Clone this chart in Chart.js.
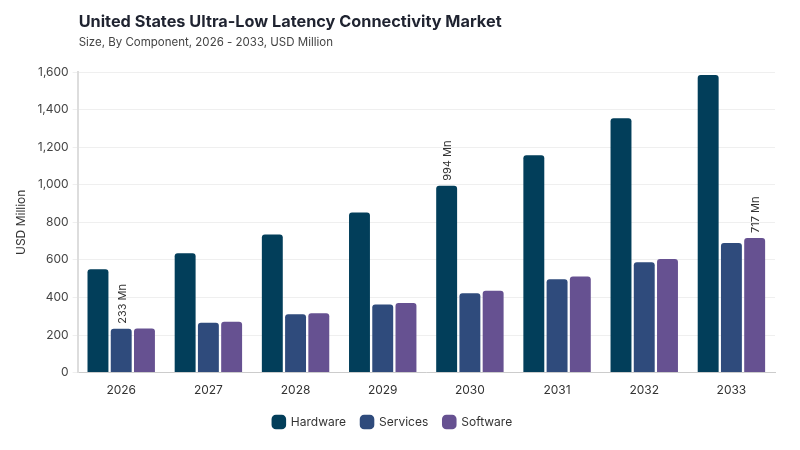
<!DOCTYPE html>
<html>
<head>
<meta charset="utf-8">
<script src="https://cdn.jsdelivr.net/npm/chart.js@4/dist/chart.umd.min.js"></script>
<style>
html,body{margin:0;padding:0;background:#fff;}
#wrap{width:800px;height:450px;position:relative;}
</style>
</head>
<body>
<div id="wrap"><canvas id="c" width="800" height="450"></canvas></div>
<script>
const categories = ["2026","2027","2028","2029","2030","2031","2032","2033"];
const hardware = [550, 635, 735, 852, 994, 1157, 1354, 1584];
const services = [233, 266, 310, 362, 423, 497, 587, 690];
const software = [235, 271, 316, 371, 435, 512, 605, 717];
const seriesNames = ["Hardware","Services","Software"];
const yTicks = [0,200,400,600,800,1000,1200,1400,1600];
// which points carry a value label: [datasetIndex, categoryIndex]
const labelled = [[1,0],[0,4],[2,7]];
const titleText = "United States Ultra-Low Latency Connectivity Market";
const subtitleText = "Size, By Component, 2026 - 2033, USD Million";

const FONT = "Inter, 'DejaVu Sans', sans-serif";
const colors = ["#023e5a","#2f4b7c","#665191"];

const headerPlugin = {
  id:'header',
  afterDraw(chart){
    const ctx = chart.ctx;
    const left = chart.chartArea.left + 1;
    ctx.save();
    ctx.fillStyle = "#1f2330";
    ctx.font = "bold 16.3px " + FONT;
    ctx.textBaseline = "alphabetic";
    ctx.textAlign = "left";
    ctx.fillText(titleText, left, 27);
    ctx.fillStyle = "#444";
    ctx.font = "11.5px " + FONT;
    ctx.fillText(subtitleText, left, 46);
    ctx.restore();
  }
};

const valueLabelPlugin = {
  id:'valueLabels',
  afterDatasetsDraw(chart){
    const ctx = chart.ctx;
    ctx.save();
    ctx.fillStyle = "#333";
    ctx.font = "11px " + FONT;
    labelled.forEach(([d,i])=>{
      const meta = chart.getDatasetMeta(d);
      const el = meta.data[i];
      const v = chart.data.datasets[d].data[i];
      ctx.save();
      ctx.translate(el.x + 1, el.y - 5);
      ctx.rotate(-Math.PI/2);
      ctx.textAlign = "left";
      ctx.textBaseline = "middle";
      ctx.fillText(v + " Mn", 0, 0);
      ctx.restore();
    });
    ctx.restore();
  }
};

const mk = (i, data) => ({
  label: seriesNames[i],
  data: data,
  backgroundColor: colors[i],
  borderColor: "#ffffff",
  borderWidth: 0,
  borderRadius: {topLeft:3, topRight:3, bottomLeft:0, bottomRight:0},
  borderSkipped: 'bottom',
  categoryPercentage: 0.8,
  barPercentage: 0.9
});

new Chart(document.getElementById('c'), {
  type:'bar',
  data:{
    labels: categories,
    datasets:[mk(0,hardware), mk(1,services), mk(2,software)]
  },
  options:{
    responsive:false,
    animation:false,
    devicePixelRatio:1,
    layout:{padding:{top:72,left:10,right:25,bottom:12}},
    plugins:{
      legend:{
        position:'bottom',
        labels:{
          usePointStyle:true,
          pointStyle:'rectRounded',
          boxWidth:14,
          boxHeight:14,
          padding:15,
          color:"#333",
          font:{family:FONT,size:12}
        }
      },
      tooltip:{enabled:false}
    },
    scales:{
      x:{
        grid:{display:false},
        border:{color:"#cccccc"},
        ticks:{color:"#333",font:{family:FONT,size:12},padding:3}
      },
      y:{
        min:0,max:1600,
        afterBuildTicks(axis){ axis.ticks = yTicks.map(v=>({value:v})); },
        grid:{color:"#efefef",tickLength:5},
        border:{color:"#dddddd",width:2},
        title:{display:true,text:"USD Million",color:"#333",font:{family:FONT,size:12},padding:{bottom:5}},
        ticks:{color:"#444",font:{family:FONT,size:12},padding:4,
          callback:(v)=>v.toLocaleString('en-US')}
      }
    }
  },
  plugins:[headerPlugin, valueLabelPlugin]
});
</script>
</body>
</html>
